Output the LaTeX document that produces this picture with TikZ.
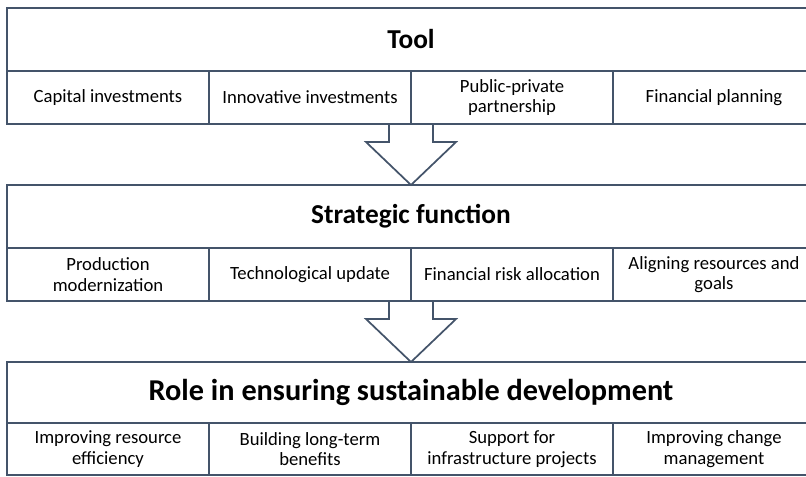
\documentclass[tikz,border=0pt]{standalone}
\usepackage{fontspec}
\setmainfont{Carlito}
\usetikzlibrary{positioning,calc}
\definecolor{boxline}{RGB}{68,84,106}

\begin{document}
\begin{tikzpicture}[x=0.75pt,y=-0.75pt,
    layer/.style={draw=boxline,line width=1.3pt,outer sep=0pt,
        minimum width=606pt,minimum height=47.25pt,
        font=\bfseries\fontsize{20.5}{24}\selectfont},
    cell/.style={draw=boxline,line width=1.3pt,outer sep=0pt,
        minimum width=151.5pt,minimum height=39.75pt,
        align=center,font=\fontsize{14}{15.5}\selectfont},
    blockarrow/.style={draw=boxline,line width=1.3pt,line join=miter}
]
      \useasboundingbox (0,0) rectangle (806,476);
      \clip (0,0) rectangle (806,476);

      % tools
      \node [layer] (tool) at (411,39.5) {Tool};
      \node [cell] (t1) at (108,97.5) {Capital investments};
      \node [cell] (t2) at (310,97.5) {Innovative investments};
      \node [cell] (t3) at (512,97.5) {Public-private\\partnership};
      \node [cell] (t4) at (714,97.5) {Financial planning};

      % strategic function
      \node [layer] (strat) at (411,216.5) {Strategic function};
      \node [cell] (s1) at (108,274.5) {Production\\modernization};
      \node [cell] (s2) at (310,274.5) {Technological update};
      \node [cell] (s3) at (512,274.5) {Financial risk allocation};
      \node [cell] (s4) at (714,274.5) {Aligning resources and\\goals};

      % role
      \node [layer,minimum height=45.75pt,font=\bfseries\fontsize{22.7}{26}\selectfont]
            (role) at (411,392.5) {Role in ensuring sustainable development};
      \node [cell,minimum height=39pt] (r1) at (108,449) {Improving resource\\efficiency};
      \node [cell,minimum height=39pt] (r2) at (310,449) {Building long-term\\benefits};
      \node [cell,minimum height=39pt] (r3) at (512,449) {Support for\\infrastructure projects};
      \node [cell,minimum height=39pt] (r4) at (714,449) {Improving change\\management};

      \draw [blockarrow] ($(t2.south east)+(-22,0)$) -- ++(0,18) -- ++(-23,0) -- (strat.north)
            -- ($(t2.south east)+(45,18)$) -- ++(-23,0) -- ++(0,-18);
      \draw [blockarrow] ($(s2.south east)+(-22,0)$) -- ++(0,18) -- ++(-23,0) -- (role.north)
            -- ($(s2.south east)+(45,18)$) -- ++(-23,0) -- ++(0,-18);

\end{tikzpicture}
\end{document}
